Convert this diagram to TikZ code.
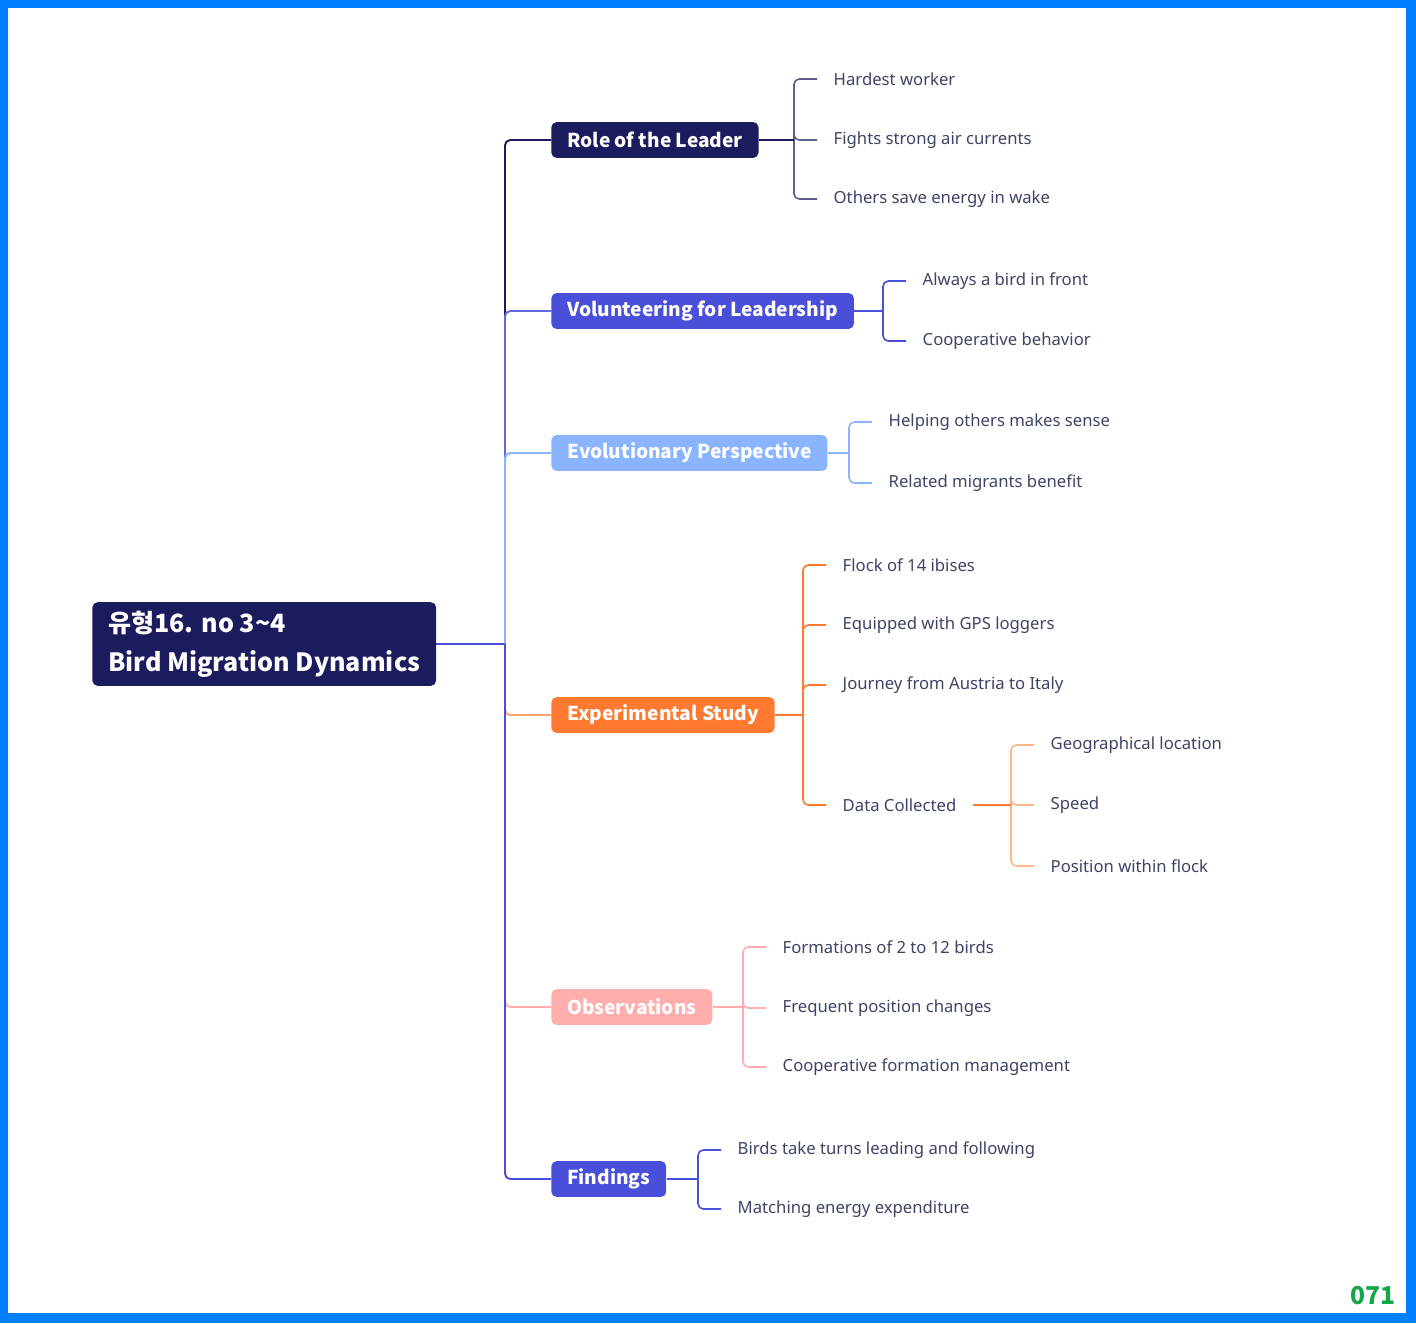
\documentclass[tikz,border=0pt]{standalone}
\usepackage{fontspec}
\setmainfont{Noto Sans}
\newfontfamily\kr{Noto Sans CJK KR}
\usetikzlibrary{positioning, calc}
\definecolor{marino}{HTML}{1B1B5E}
\definecolor{violeta}{HTML}{4A4FD9}
\definecolor{celeste}{HTML}{8AB4FF}
\definecolor{naranja}{HTML}{FF7A30}
\definecolor{rosa}{HTML}{FFADAD}
\definecolor{tinta}{HTML}{3D4466}
\definecolor{marco}{HTML}{0080FF}
\definecolor{verde}{HTML}{12A84A}
\tikzset{
  raiz/.style={rectangle, rounded corners=3pt, fill=marino, text=white, anchor=west,
               font=\kr\bfseries\fontsize{14.3}{22}\selectfont, align=left,
               minimum height=47.6pt, inner xsep=9pt},
  rama/.style={rectangle, rounded corners=3pt, text=white, anchor=west,
               font=\kr\bfseries\fontsize{10.9}{13}\selectfont,
               minimum height=20.4pt, inner xsep=9pt, inner ysep=0pt},
  hoja/.style={anchor=west, text=tinta, font=\fontsize{9.5}{11}\selectfont,
               inner xsep=9.3pt, inner ysep=2pt},
  tallo/.style={line width=1.1pt, rounded corners=3pt},
  ramita/.style={line width=0.9pt, rounded corners=3pt}
}

\begin{document}
\begin{tikzpicture}[x=0.02cm, y=-0.02cm]
  \useasboundingbox (0,0) rectangle (1416,1323);
  \fill [marco] (0,0) rectangle (1416,1323);
  \fill [white] (8,8) rectangle (1406,1313);

  \node (raiz) [raiz] at (92,644) {유형16. no 3\textasciitilde4\\Bird Migration Dynamics};

  \node (rol) [rama, fill=marino] at (551,140) {Role of the Leader};
  \node (vol) [rama, fill=violeta] at (551,311) {Volunteering for Leadership};
  \node (evo) [rama, fill=celeste] at (551,453) {Evolutionary Perspective};
  \node (exp) [rama, fill=naranja] at (551,715) {Experimental Study};
  \node (obs) [rama, fill=rosa] at (551,1007) {Observations};
  \node (fin) [rama, fill=violeta] at (551,1179) {Findings};

  \coordinate (tronco) at (505,644);
  \draw [tallo, marino] (tronco) |- (rol.west);
  \draw [tallo, violeta!85] (tronco) |- (vol.west);
  \draw [tallo, celeste] (tronco) |- (evo.west);
  \draw [tallo, naranja!70] (tronco) |- (exp.west);
  \draw [tallo, rosa] (tronco) |- (obs.west);
  \draw [tallo, violeta] (tronco) |- (fin.west);
  \draw [tallo, violeta] (raiz.east) -- (tronco);

  % hojas
  \node (r1) [hoja] at (817,79) {Hardest worker};
  \node (r2) [hoja] at (817,140) {Fights strong air currents};
  \node (r3) [hoja] at (817,199) {Others save energy in wake};
  \node (v1) [hoja] at (906,281) {Always a bird in front};
  \node (v2) [hoja] at (906,341) {Cooperative behavior};
  \node (e1) [hoja] at (872,422) {Helping others makes sense};
  \node (e2) [hoja] at (872,483) {Related migrants benefit};
  \node (x1) [hoja] at (826,565) {Flock of 14 ibises};
  \node (x2) [hoja] at (826,625) {Equipped with GPS loggers};
  \node (x3) [hoja] at (826,685) {Journey from Austria to Italy};
  \node (dat) [hoja] at (826,805) {Data Collected};
  \node (d1) [hoja] at (1034,745) {Geographical location};
  \node (d2) [hoja] at (1034,805) {Speed};
  \node (d3) [hoja] at (1034,866) {Position within flock};
  \node (o1) [hoja] at (766,947) {Formations of 2 to 12 birds};
  \node (o2) [hoja] at (766,1008) {Frequent position changes};
  \node (o3) [hoja] at (766,1067) {Cooperative formation management};
  \node (f1) [hoja] at (721,1150) {Birds take turns leading and following};
  \node (f2) [hoja] at (721,1209) {Matching energy expenditure};

  \coordinate (brol) at (794,140);
  \coordinate (bvol) at (883,311);
  \coordinate (bevo) at (849,453);
  \coordinate (bexp) at (803,715);
  \coordinate (bdat) at (1011,805);
  \coordinate (bobs) at (743,1007);
  \coordinate (bfin) at (698,1179);

  \foreach \h in {r1,r2,r3} \draw [ramita, marino!70] (brol) |- (\h.west);
  \draw [tallo, marino] (rol.east) -- (brol);
  \foreach \h in {v1,v2} \draw [ramita, violeta] (bvol) |- (\h.west);
  \draw [tallo, violeta] (vol.east) -- (bvol);
  \foreach \h in {e1,e2} \draw [ramita, celeste] (bevo) |- (\h.west);
  \draw [tallo, celeste] (evo.east) -- (bevo);
  \foreach \h in {x1,x2,x3,dat} \draw [ramita, naranja] (bexp) |- (\h.west);
  \draw [tallo, naranja] (exp.east) -- (bexp);
  \foreach \h in {d1,d2,d3} \draw [ramita, naranja!55] (bdat) |- (\h.west);
  \draw [tallo, naranja] (dat.east) -- (bdat);
  \foreach \h in {o1,o2,o3} \draw [ramita, rosa] (bobs) |- (\h.west);
  \draw [tallo, rosa] (obs.east) -- (bobs);
  \foreach \h in {f1,f2} \draw [ramita, violeta] (bfin) |- (\h.west);
  \draw [tallo, violeta] (fin.east) -- (bfin);

  \node (num) [font=\kr\bfseries\fontsize{14}{16}\selectfont, text=verde] at (1373,1296) {071};
\end{tikzpicture}
\end{document}
